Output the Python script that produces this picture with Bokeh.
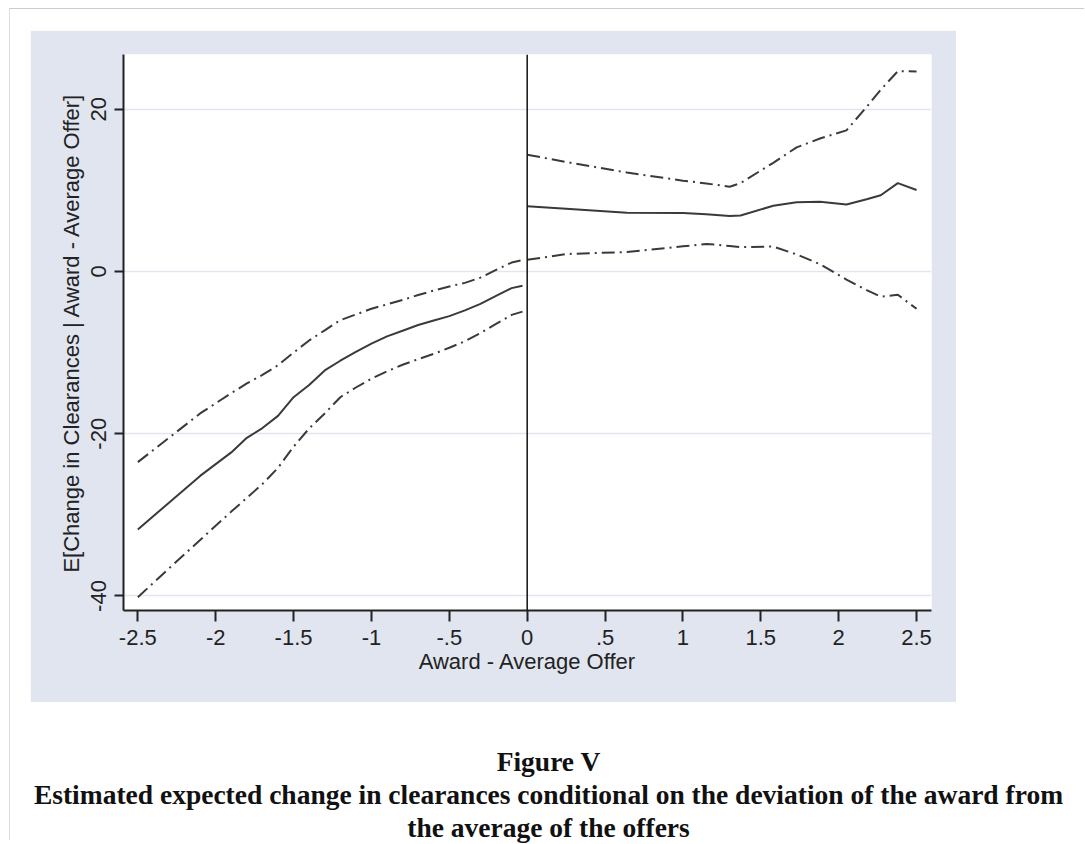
from bokeh.plotting import figure
from bokeh.models import FixedTicker, Span, Div, Range1d
from bokeh.layouts import column
from bokeh.embed import file_html
from bokeh.resources import INLINE

# ---- data ----
x_left = [-2.5, -2.3, -2.1, -1.9, -1.8, -1.7, -1.6, -1.5, -1.4, -1.3, -1.2, -1.1,
          -1.0, -0.9, -0.8, -0.7, -0.6, -0.5, -0.4, -0.3, -0.2, -0.1, -0.03]
mid_left = [-31.8, -28.5, -25.2, -22.3, -20.5, -19.3, -17.8, -15.5, -14.0, -12.2, -11.0, -9.9,
            -8.9, -8.0, -7.3, -6.6, -6.05, -5.5, -4.8, -4.0, -3.0, -2.05, -1.75]
hi_left = [-23.5, -20.5, -17.5, -15.0, -13.8, -12.75, -11.55, -10.0, -8.5, -7.25, -6.0, -5.3,
           -4.6, -4.05, -3.5, -2.9, -2.35, -1.85, -1.4, -0.75, 0.2, 1.1, 1.4]
lo_left = [-40.15, -36.6, -33.1, -29.6, -27.9, -26.2, -24.2, -21.6, -19.35, -17.5, -15.5, -14.3,
           -13.2, -12.3, -11.5, -10.8, -10.15, -9.4, -8.6, -7.6, -6.45, -5.35, -4.95]

x_right = [0.0, 0.25, 0.64, 1.0, 1.15, 1.3, 1.37, 1.58, 1.73, 1.88, 2.05, 2.18, 2.27, 2.38, 2.5]
mid_right = [8.05, 7.75, 7.25, 7.2, 7.05, 6.85, 6.9, 8.1, 8.55, 8.6, 8.25, 8.9, 9.4, 10.9, 10.05]
hi_right = [14.4, 13.5, 12.2, 11.2, 10.85, 10.45, 10.9, 13.4, 15.3, 16.4, 17.4, 20.3, 22.4, 24.7, 24.65]
lo_right = [1.44, 2.15, 2.4, 3.1, 3.4, 3.15, 3.0, 3.08, 2.1, 0.9, -1.0, -2.3, -3.1, -2.87, -4.6]

x_ticks = [-2.5, -2.0, -1.5, -1.0, -0.5, 0.0, 0.5, 1.0, 1.5, 2.0, 2.5]
x_tick_labels = ["-2.5", "-2", "-1.5", "-1", "-.5", "0", ".5", "1", "1.5", "2", "2.5"]
y_ticks = [-40, -20, 0, 20]
y_tick_labels = ["-40", "-20", "0", "20"]

x_title = "Award - Average Offer"
y_title = "E[Change in Clearances | Award - Average Offer]"
caption_lines = ["Figure V",
                 "Estimated expected change in clearances conditional on the deviation of the award from",
                 "the average of the offers"]

PANEL = "#e1e5ef"
LINE = "#3a3a3a"
FONT = "Liberation Sans"

p = figure(width=926, height=672,
           x_range=Range1d(-2.592, 2.596), y_range=Range1d(-41.79, 26.75),
           output_backend="svg", toolbar_location=None,
           min_border_left=93, min_border_right=25, min_border_top=24, min_border_bottom=92)
p.margin = (21, 0, 38, 20)
p.border_fill_color = PANEL
p.background_fill_color = "white"
p.outline_line_color = None

dash = "13 5 2 5"
p.line(x_left, hi_left, line_color=LINE, line_width=2, line_dash=dash)
p.line(x_left, lo_left, line_color=LINE, line_width=2, line_dash=dash)
p.line(x_left, mid_left, line_color=LINE, line_width=2)
p.line(x_right, hi_right, line_color=LINE, line_width=2, line_dash=dash)
p.line(x_right, lo_right, line_color=LINE, line_width=2, line_dash=dash)
p.line(x_right, mid_right, line_color=LINE, line_width=2)

p.add_layout(Span(location=0, dimension="height", line_color="#111111", line_width=1.5))

# axes
p.xaxis.ticker = FixedTicker(ticks=x_ticks)
p.xaxis.major_label_overrides = {t: l for t, l in zip(x_ticks, x_tick_labels)}
p.yaxis.ticker = FixedTicker(ticks=y_ticks)
p.yaxis.major_label_overrides = {t: l for t, l in zip(y_ticks, y_tick_labels)}
p.yaxis.major_label_orientation = "vertical"

for ax in (p.xaxis, p.yaxis):
    ax.axis_line_color = "#222222"
    ax.axis_line_width = 2
    ax.major_tick_line_color = "#222222"
    ax.major_tick_line_width = 2
    ax.major_tick_in = 0
    ax.minor_tick_line_color = None
    ax.major_label_text_font = FONT
    ax.major_label_text_font_size = "22px"
    ax.major_label_text_color = "#222222"
    ax.axis_label_text_font = FONT
    ax.axis_label_text_font_size = "22px"
    ax.axis_label_text_font_style = "normal"
    ax.axis_label_text_color = "#222222"

p.xaxis.major_tick_out = 11
p.yaxis.major_tick_out = 9
p.xaxis.major_label_standoff = 8
p.yaxis.major_label_standoff = 8
p.xaxis.axis_label_standoff = 1
p.yaxis.axis_label_standoff = 5
p.xaxis.axis_label = x_title
p.yaxis.axis_label = y_title

p.xgrid.grid_line_color = None
p.ygrid.ticker = FixedTicker(ticks=y_ticks)
p.ygrid.grid_line_color = "#e2e5ef"
p.ygrid.grid_line_width = 1.5

cap_html = ("<div style=\"width:1067px;text-align:center;font-family:'Liberation Serif','Times New Roman',serif;"
            "font-weight:bold;font-size:27.5px;line-height:33px;color:#111;white-space:nowrap\">"
            + "<br>".join(caption_lines) + "</div>")
caption = Div(text=cap_html, width=1075, height=90, styles={"overflow": "visible"})

layout = column(p, caption, width=1075, margin=(8, 0, 0, 9),
                styles={"border-top": "1px solid #cccccc", "border-left": "1px solid #dedede"})

open("out.html", "w").write(file_html(layout, INLINE))
